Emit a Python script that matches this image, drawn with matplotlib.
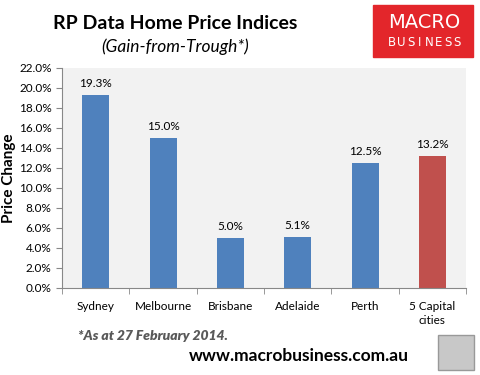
import numpy as np
import matplotlib.pyplot as plt
from matplotlib.patches import Rectangle
from matplotlib.ticker import PercentFormatter

cities = ['Sydney', 'Melbourne', 'Brisbane', 'Adelaide', 'Perth', '5 Capital\ncities']
gains = [19.3, 15.0, 5.0, 5.1, 12.5, 13.2]
colors = ['#4f81bd'] * 5 + ['#c0504d']

plt.rcParams['font.family'] = ['Lato', 'DejaVu Sans']

fig = plt.figure(figsize=(4.81, 3.75), dpi=100)
ax = fig.add_axes([0.129, 0.232, 0.840, 0.587])
ax.set_facecolor('#f2f2f2')

x = np.arange(len(cities))
ax.bar(x, gains, width=0.4, color=colors)
for xi, g in zip(x, gains):
    ax.text(xi, g + 0.6, f'{g:.1f}%', ha='center', va='bottom', fontsize=8.5)

ax.set_xlim(-0.5, len(cities) - 0.5)
ax.set_ylim(0, 22)
ax.set_yticks(np.arange(0, 22.1, 2))
ax.yaxis.set_major_formatter(PercentFormatter(decimals=1))
ax.set_xticks(x)
ax.set_xticklabels(cities, fontsize=8.5, linespacing=1.4)
ax.set_xticks(np.arange(-0.5, len(cities), 1), minor=True)
ax.tick_params(axis='x', which='major', length=0, pad=9)
ax.tick_params(axis='x', which='minor', length=4, color='#888888')
ax.tick_params(axis='y', labelsize=8.5, length=4, color='#888888')
for s in ['top', 'right']:
    ax.spines[s].set_visible(False)
ax.spines['left'].set_color('#888888')
ax.spines['bottom'].set_color('#888888')
ax.set_ylabel('Price Change', fontsize=11, fontweight='bold', labelpad=2)

fig.text(0.364, 0.938, 'RP Data Home Price Indices', ha='center', va='center',
         fontsize=14, fontweight='bold')
fig.text(0.364, 0.875, '(Gain-from-Trough*)', ha='center', va='center',
         fontsize=12.5, style='italic')

# logo box
fig.patches.append(Rectangle((373 / 481, 1 - 57 / 375), 100 / 481, 52 / 375,
                             transform=fig.transFigure, color='#e3262b'))
fig.text(424 / 481, 1 - 23 / 375, 'MACRO', ha='center', va='center',
         fontsize=14, color='white', family='DejaVu Sans')
for i, ch in enumerate('BUSINESS'):
    fig.text((392 + i * 9.3) / 481, 1 - 42 / 375, ch, ha='center', va='center',
             fontsize=8.5, color='white', family='DejaVu Sans')

fig.text(78 / 481, 1 - 336 / 375, '*As at 27 February 2014.', ha='left', va='center',
         fontsize=10, fontweight='heavy', style='italic', color='#595959')
fig.text(299 / 481, 1 - 356 / 375, 'www.macrobusiness.com.au', ha='center', va='center',
         fontsize=12.5, fontweight='bold')

# fox icon placeholder
fig.patches.append(Rectangle((438 / 481, 1 - 370 / 375), 36 / 481, 35 / 375,
                             transform=fig.transFigure, facecolor='#c8c8c8',
                             edgecolor='#999999', lw=1))

fig.savefig('out.png', dpi=100)
